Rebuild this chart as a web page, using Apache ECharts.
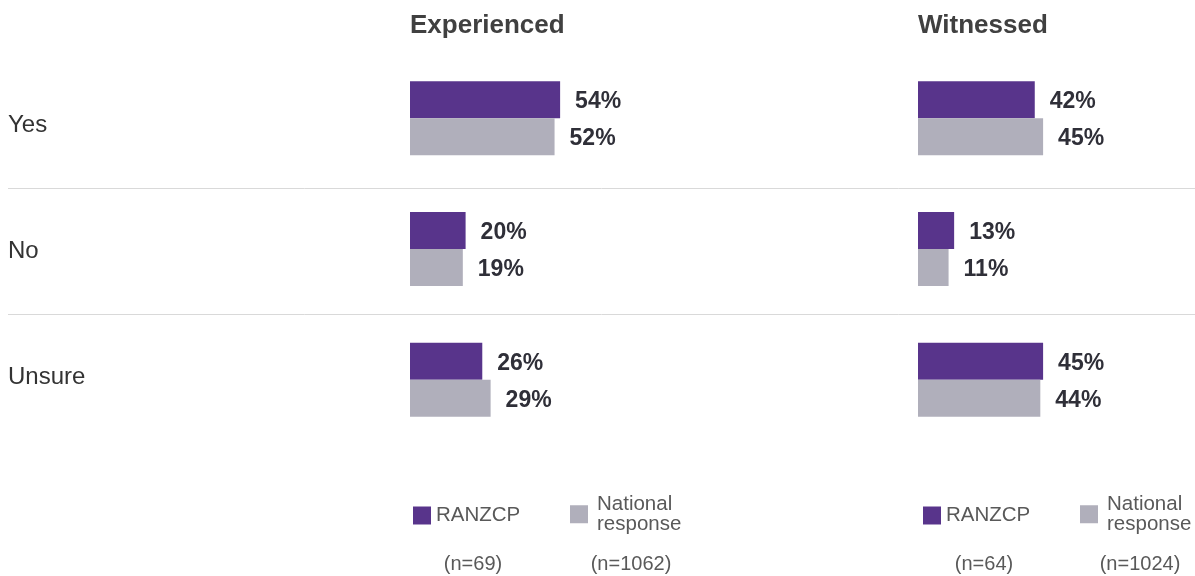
<!DOCTYPE html>
<html>
<head>
<meta charset="utf-8">
<script src="https://cdn.jsdelivr.net/npm/echarts@6/dist/echarts.min.js"></script>
<style>
  html, body { margin: 0; padding: 0; background: #ffffff; }
  #chart { width: 1195px; height: 576px; }
</style>
</head>
<body>
<div id="chart"></div>
<script>
// Survey answers, by response and respondent group
const categories = ['Yes', 'No', 'Unsure'];
const panelTitles = ['Experienced', 'Witnessed'];
const seriesNames = ['RANZCP', 'National response'];
const experiencedRanzcp = [54, 20, 26];
const experiencedNational = [52, 19, 29];
const witnessedRanzcp = [42, 13, 45];
const witnessedNational = [45, 11, 44];
const experiencedN = [69, 1062];
const witnessedN = [64, 1024];

const PURPLE = '#58348b';
const GREY = '#b0afbb';
const FONT = '"Liberation Sans", Arial, sans-serif';

const panels = [
  { title: panelTitles[0], left: 410, values: [experiencedRanzcp, experiencedNational], n: experiencedN,
    legendLeft: [413, 570], nCenter: [473, 631] },
  { title: panelTitles[1], left: 918, values: [witnessedRanzcp, witnessedNational], n: witnessedN,
    legendLeft: [923, 1080], nCenter: [984, 1140] }
];

const colors = [PURPLE, GREY];

// grid 0 carries the row labels and separators across the full width
const grid = [{ left: 8, right: 0, top: 62, height: 378 }];
const xAxis = [{ type: 'value', gridIndex: 0, show: false }];
const yAxis = [{
  type: 'category', gridIndex: 0, data: categories, inverse: true,
  axisLine: { show: false }, axisTick: { show: false },
  axisLabel: { inside: true, margin: 0, fontSize: 24, padding: [4, 0, 0, 0], color: '#333333', fontFamily: FONT },
  splitLine: { show: true, showMinLine: false, showMaxLine: false, lineStyle: { color: '#d9d9d9', width: 1 } }
}];
const series = [];
const title = [];
const legend = [];
const graphic = [];

panels.forEach((p, i) => {
  const gi = i + 1;
  grid.push({ left: p.left, width: 166.8, top: 53, height: 392 });
  xAxis.push({ type: 'value', gridIndex: gi, min: 0, max: 60, show: false });
  yAxis.push({ type: 'category', gridIndex: gi, data: categories, inverse: true, show: false });
  p.values.forEach((vals, k) => {
    series.push({
      type: 'bar', name: seriesNames[k], xAxisIndex: gi, yAxisIndex: gi,
      data: vals, barWidth: 37, barGap: '0%',
      itemStyle: { color: colors[k] },
      label: {
        show: true, position: 'right', distance: 15, formatter: '{c}%',
        fontSize: 23, fontWeight: 'bold', color: '#2f2f38', fontFamily: FONT,
        offset: [0, 2]
      },
      silent: true
    });
    legend.push({
      data: [seriesNames[k]], left: p.legendLeft[k], top: k === 0 ? 505 : 494,
      padding: 0, icon: 'rect', itemWidth: 18, itemHeight: 18, itemGap: 6,
      selectedMode: false,
      formatter: (name) => name.replace(' ', '\n'),
      textStyle: {
        fontSize: 20.5, lineHeight: 19.5, color: '#595959', fontFamily: FONT,
        padding: k === 0 ? 0 : [0, 0, 0, 4]
      }
    });
    graphic.push({
      type: 'text', x: p.nCenter[k], y: 564,
      style: {
        text: '(n=' + p.n[k] + ')', fill: '#595959', font: '20px ' + FONT,
        align: 'center', verticalAlign: 'middle'
      }
    });
  });
  title.push({
    text: p.title, left: p.left, top: 13, padding: 0,
    textStyle: { fontSize: 26, fontWeight: 'bold', color: '#404040', fontFamily: FONT }
  });
});

const chart = echarts.init(document.getElementById('chart'));
chart.setOption({ animation: false, title, legend, grid, xAxis, yAxis, series, graphic });
</script>
</body>
</html>
